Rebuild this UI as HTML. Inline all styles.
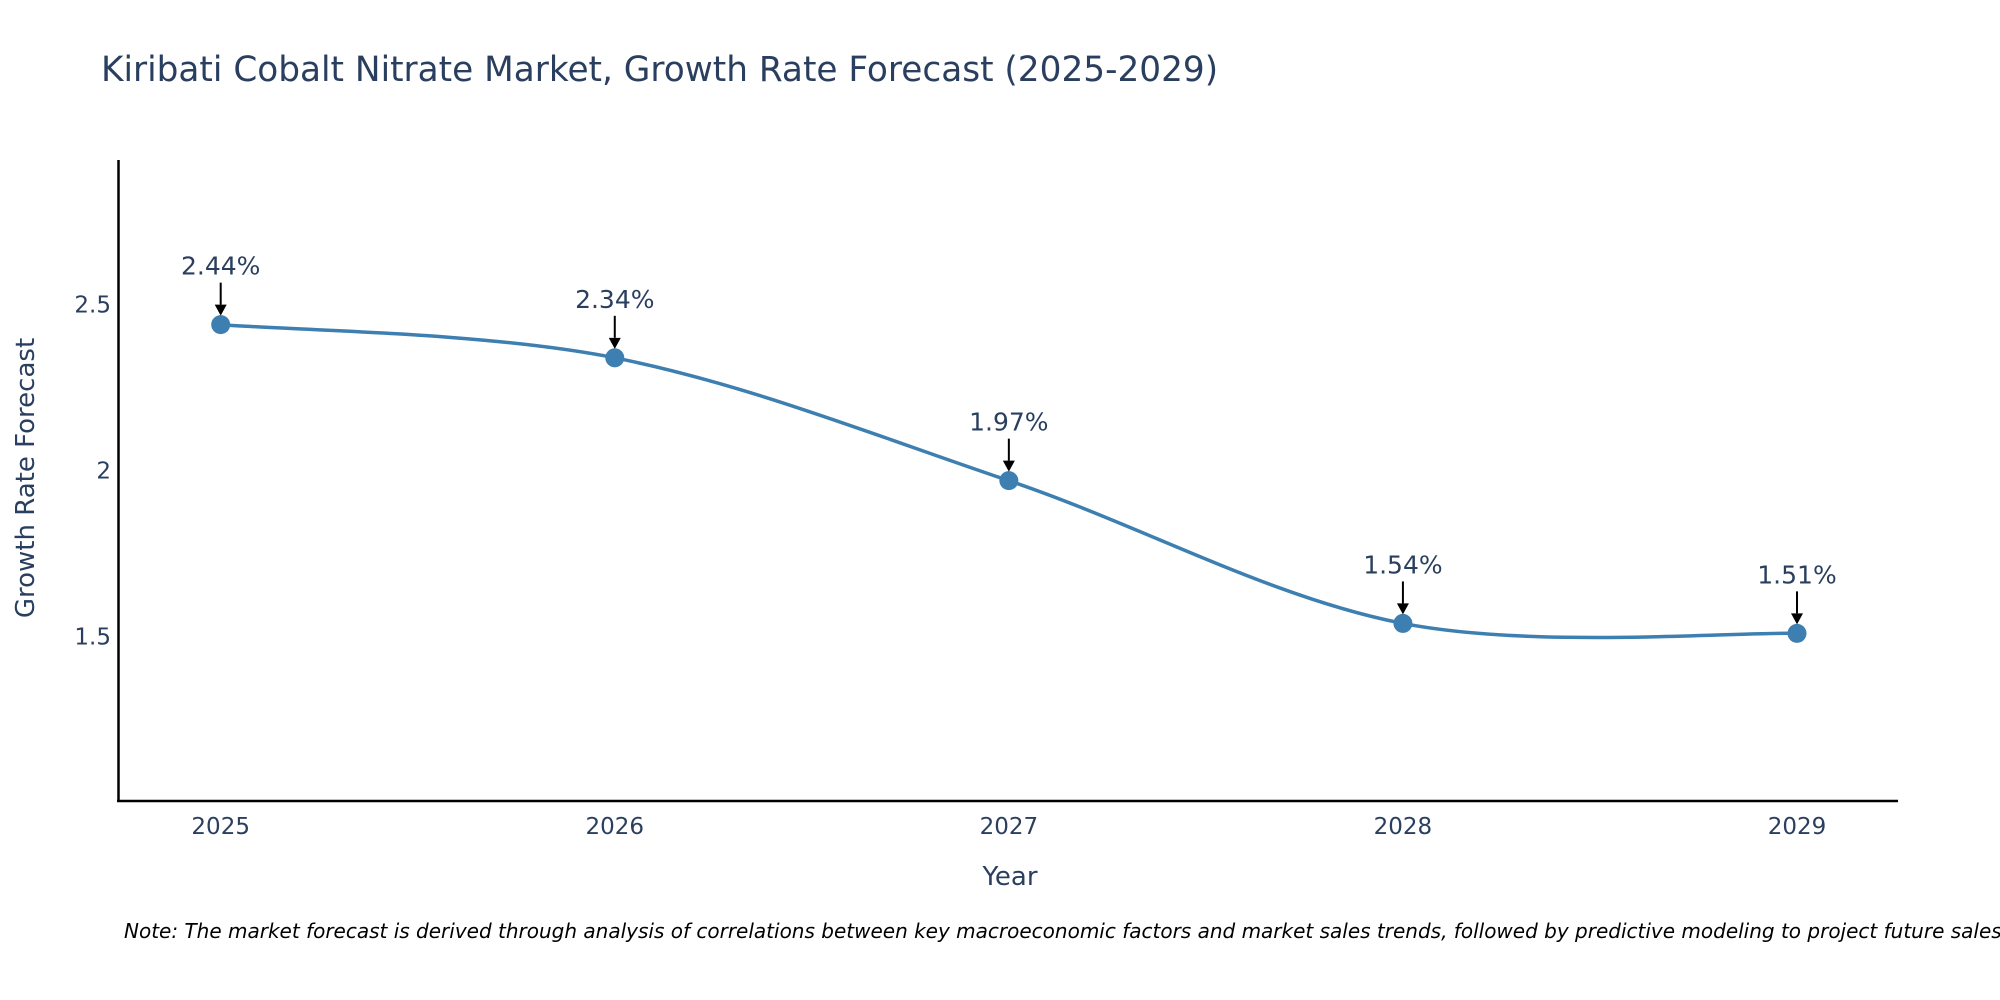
<!DOCTYPE html>
<html><head><meta charset="utf-8"><style>
body{margin:0;background:#fff;}
svg{display:block;font-family:"DejaVu Sans","Liberation Sans",sans-serif;}
</style></head><body>
<svg id="chart" width="2000" height="1000" viewBox="0 0 2000 1000">
<text x="101" y="81" font-size="34.3" fill="#2a3f5f">Kiribati Cobalt Nitrate Market, Growth Rate Forecast (2025-2029)</text>
<g id="yticks"></g><g id="xticks"></g>
<line x1="118.5" y1="160" x2="118.5" y2="802" stroke="#000" stroke-width="2.5"/>
<line x1="117" y1="801" x2="1898" y2="801" stroke="#000" stroke-width="2.5"/>
<g id="series"></g>
<text x="1010" y="885" font-size="26" fill="#2a3f5f" text-anchor="middle">Year</text>
<text transform="translate(34,478) rotate(-90)" font-size="26" fill="#2a3f5f" text-anchor="middle">Growth Rate Forecast</text>
<text x="124" y="938" font-size="20" font-style="italic" fill="#000">Note: The market forecast is derived through analysis of correlations between key macroeconomic factors and market sales trends, followed by predictive modeling to project future sales.</text>
</svg>
<script>
const years = [2025, 2026, 2027, 2028, 2029];
const growth = [2.44, 2.34, 1.97, 1.54, 1.51];
const labels = ["2.44%", "2.34%", "1.97%", "1.54%", "1.51%"];
const yTicks = [1.5, 2, 2.5];
const yTickLabels = ["1.5", "2", "2.5"];
const NS="http://www.w3.org/2000/svg";
const xs=i=>220.7+(1797-220.7)*(years[i]-years[0])/(years[years.length-1]-years[0]);
const ys=v=>470.7-(v-2)*332;
function mk(t,a,p){const e=document.createElementNS(NS,t);for(const k in a)e.setAttribute(k,a[k]);p.appendChild(e);return e;}
const yg=document.getElementById('yticks'),xg=document.getElementById('xticks'),sg=document.getElementById('series');
yTicks.forEach((v,i)=>{const t=mk('text',{x:111,y:ys(v)+8,'font-size':23,fill:'#2a3f5f','text-anchor':'end'},yg);t.textContent=yTickLabels[i];

});
years.forEach((y,i)=>{const t=mk('text',{x:xs(i),y:834,'font-size':23,fill:'#2a3f5f','text-anchor':'middle'},xg);t.textContent=y;

});
const P=growth.map((v,i)=>[xs(i),ys(v)]);
let d=`M${P[0][0]},${P[0][1]}`;
for(let i=0;i<P.length-1;i++){const p0=P[Math.max(i-1,0)],p1=P[i],p2=P[i+1],p3=P[Math.min(i+2,P.length-1)];
const c1=[p1[0]+(p2[0]-p0[0])/6,p1[1]+(p2[1]-p0[1])/6],c2=[p2[0]-(p3[0]-p1[0])/6,p2[1]-(p3[1]-p1[1])/6];
d+=` C${c1[0]},${c1[1]} ${c2[0]},${c2[1]} ${p2[0]},${p2[1]}`;}
const path=mk('path',{d:d,fill:'none',stroke:'#3d7fb0','stroke-width':3.5},sg);


P.forEach((p,i)=>{
const c=mk('circle',{cx:p[0],cy:p[1],r:9.5,fill:'#3d7fb0'},sg);


const ln=mk('line',{x1:p[0],y1:p[1]-42,x2:p[0],y2:p[1]-20,stroke:'#000','stroke-width':2},sg);


const ah=mk('path',{d:`M${p[0]-6},${p[1]-20} L${p[0]+6},${p[1]-20} L${p[0]},${p[1]-9} Z`,fill:'#000'},sg);


const t=mk('text',{x:p[0],y:p[1]-50,'font-size':25,fill:'#2a3f5f','text-anchor':'middle'},sg);t.textContent=labels[i];

});
</script>
</body></html>
